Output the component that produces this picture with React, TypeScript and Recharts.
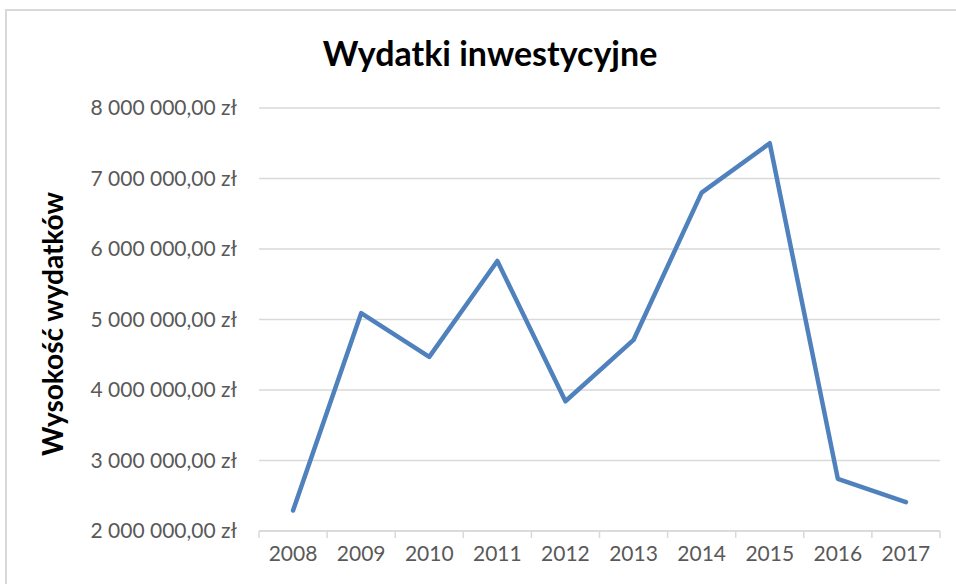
import React from "react";
import { LineChart, Line, XAxis, YAxis, CartesianGrid } from "recharts";

// Investment spending per year (PLN).
const years = ["2008", "2009", "2010", "2011", "2012", "2013", "2014", "2015", "2016", "2017"];
const spending = [2290000, 5090000, 4470000, 5830000, 3840000, 4710000, 6800000, 7500000, 2740000, 2410000];
const yTicks = [2000000, 3000000, 4000000, 5000000, 6000000, 7000000, 8000000];
const boundaryTicks = [0, 1, 2, 3, 4, 5, 6, 7, 8, 9, 10];

const data = years.map((year, i) => ({ year, idx: i + 0.5, value: spending[i] }));

const FONT = "Lato, 'Open Sans', sans-serif";
const GRID = "#d9d9d9";

const formatZl = (v: number) => {
  const s = Math.round(v).toString().replace(/\B(?=(\d{3})+(?!\d))/g, " ");
  return `${s},00 zł`;
};

// boundary axis draws only tick marks, no text
const NoLabel = () => <g />;

export default function App() {
  return (
    <div
      style={{
        position: "fixed",
        left: 0,
        top: 0,
        width: 956,
        height: 584,
        overflow: "hidden",
        background: "#fff",
        fontFamily: FONT,
      }}
    >
      <div
        style={{
          position: "absolute",
          left: 5,
          top: 9,
          width: 1100,
          height: 800,
          border: `2px solid ${GRID}`,
        }}
      />
      <div
        style={{
          position: "absolute",
          left: 0,
          top: 33,
          width: 980,
          textAlign: "center",
          fontSize: 34,
          lineHeight: "40px",
          fontWeight: 700,
          color: "#000",
        }}
      >
        Wydatki inwestycyjne
      </div>
      <div
        style={{
          position: "absolute",
          left: 52,
          top: 324,
          transform: "translate(-50%, -50%) rotate(-90deg)",
          whiteSpace: "nowrap",
          fontSize: 28,
          fontWeight: 700,
          color: "#000",
        }}
      >
        Wysokość wydatków
      </div>
      <div style={{ position: "absolute", left: 0, top: 0 }}>
        <LineChart
          width={956}
          height={584}
          data={data}
          margin={{ top: 108, right: 16, bottom: 5, left: 0 }}
        >
          <CartesianGrid horizontal vertical={false} stroke={GRID} strokeWidth={1.5} />
          <XAxis
            xAxisId="b"
            dataKey="year"
            scale="band"
            height={40}
            axisLine={false}
            tickLine={false}
            tickSize={0}
            tickMargin={7}
            interval={0}
            tick={{ fill: "#595959", fontSize: 21, fontFamily: FONT }}
          />
          <XAxis
            xAxisId="a"
            dataKey="idx"
            type="number"
            domain={[0, 10]}
            ticks={boundaryTicks}
            allowDataOverflow
            height={8}
            tick={NoLabel}
            tickLine={{ stroke: GRID, strokeWidth: 1.5 }}
            tickSize={7}
            stroke={GRID}
            strokeWidth={1.5}
          />
          <YAxis
            domain={[2000000, 8000000]}
            ticks={yTicks}
            width={259}
            axisLine={false}
            tickLine={false}
            tickSize={0}
            tickMargin={22}
            tickFormatter={formatZl}
            tick={{ fill: "#595959", fontSize: 21, fontFamily: FONT }}
          />
          <Line
            xAxisId="b"
            type="linear"
            dataKey="value"
            stroke="#4f81bd"
            strokeWidth={4.5}
            strokeLinejoin="round"
            strokeLinecap="round"
            dot={false}
            isAnimationActive={false}
          />
        </LineChart>
      </div>
    </div>
  );
}
